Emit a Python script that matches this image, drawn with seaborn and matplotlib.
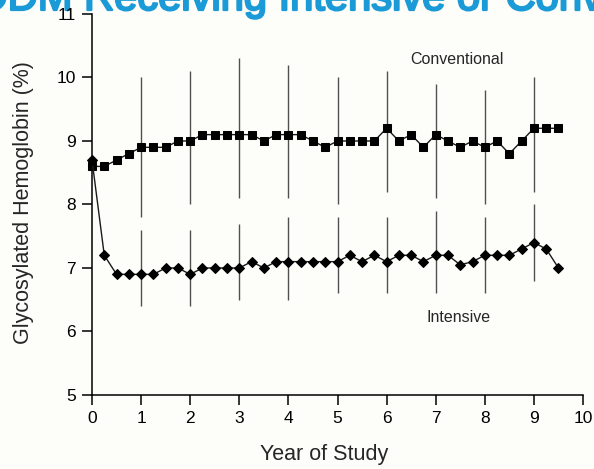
import pandas as pd
import matplotlib
matplotlib.use("Agg")
import matplotlib.pyplot as plt
import matplotlib.patheffects as pe
import seaborn as sns

# =====================================================
# Data
# =====================================================

years = [i * 0.25 for i in range(39)]

conventional = [
    8.6, 8.6, 8.7, 8.8, 8.9, 8.9, 8.9, 9.0, 9.0, 9.1,
    9.1, 9.1, 9.1, 9.1, 9.0, 9.1, 9.1, 9.1, 9.0, 8.9,
    9.0, 9.0, 9.0, 9.0, 9.2, 9.0, 9.1, 8.9, 9.1, 9.0,
    8.9, 9.0, 8.9, 9.0, 8.8, 9.0, 9.2, 9.2, 9.2,
]

intensive = [
    8.7, 7.2, 6.9, 6.9, 6.9, 6.9, 7.0, 7.0, 6.9, 7.0,
    7.0, 7.0, 7.0, 7.1, 7.0, 7.1, 7.1, 7.1, 7.1, 7.1,
    7.1, 7.2, 7.1, 7.2, 7.1, 7.2, 7.2, 7.1, 7.2, 7.2,
    7.05, 7.1, 7.2, 7.2, 7.2, 7.3, 7.4, 7.3, 7.0,
]

# yearly spread bars
bar_years = [1, 2, 3, 4, 5, 6, 7, 8, 9]
conv_low = [7.8, 8.0, 8.1, 8.1, 8.0, 8.2, 8.1, 8.0, 8.2]
conv_high = [10.0, 10.1, 10.3, 10.2, 10.0, 10.1, 9.9, 9.8, 10.0]
int_low = [6.4, 6.4, 6.5, 6.5, 6.6, 6.6, 6.6, 6.6, 6.8]
int_high = [7.6, 7.6, 7.7, 7.8, 7.8, 7.8, 7.9, 7.8, 8.0]

df = pd.DataFrame({
    "Year": years * 2,
    "HbA1c": conventional + intensive,
    "Group": ["Conventional"] * len(years) + ["Intensive"] * len(years),
})

# =====================================================
# Style
# =====================================================

sns.set_style("ticks")
plt.rcParams["font.family"] = ["Liberation Sans", "DejaVu Sans"]

BG = "#fdfdfa"
TITLE_BLUE = "#1a9ad6"

fig = plt.figure(figsize=(5.94, 4.69), dpi=100, facecolor=BG)
ax = fig.add_axes([0.1549, 0.1578, 0.8266, 0.8124])
ax.set_facecolor("none")

# =====================================================
# Plot
# =====================================================

ax.vlines(bar_years, conv_low, conv_high, color="#505050", lw=1.0, zorder=1)
ax.vlines(bar_years, int_low, int_high, color="#505050", lw=1.0, zorder=1)

sns.lineplot(
    data=df, x="Year", y="HbA1c", style="Group",
    markers={"Conventional": "s", "Intensive": "D"},
    dashes=False, color="#1a1a1a", lw=1.0,
    markersize=5.2, markeredgecolor="black", markerfacecolor="black",
    legend=False, ax=ax, zorder=3,
)
for line in ax.lines:
    line.set_clip_on(False)

ax.text(6.48, 10.21, "Conventional", fontsize=11.5, ha="left", va="baseline")
ax.text(6.82, 6.15, "Intensive", fontsize=11.5, ha="left", va="baseline")

ax.set_xlim(0, 10)
ax.set_ylim(5, 11)
ax.set_xticks(range(0, 11))
ax.set_yticks(range(5, 12))
ax.tick_params(direction="out", length=7.5, width=1.1, labelsize=12.5, pad=4,
               color="black", labelcolor="black")

for side in ["top", "right"]:
    ax.spines[side].set_visible(False)
for side in ["left", "bottom"]:
    ax.spines[side].set_color("black")
    ax.spines[side].set_linewidth(1.1)

ax.set_xlabel("Year of Study", fontsize=15.5)
ax.set_ylabel("Glycosylated Hemoglobin (%)", fontsize=15.5)
ax.xaxis.set_label_coords(0.4725, -0.129)
ax.yaxis.set_label_coords(-0.118, 0.504)

# slide title, cut off at the top of the picture
fig.text(-34 / 594, 1 - 10 / 469,
         "IDDM Receiving Intensive or Conventional Therapy",
         fontsize=30, color=TITLE_BLUE,
         ha="left", va="baseline", zorder=-1,
         path_effects=[pe.withStroke(linewidth=1.6, foreground=TITLE_BLUE)])

fig.savefig("out.png", dpi=100, facecolor=BG)
